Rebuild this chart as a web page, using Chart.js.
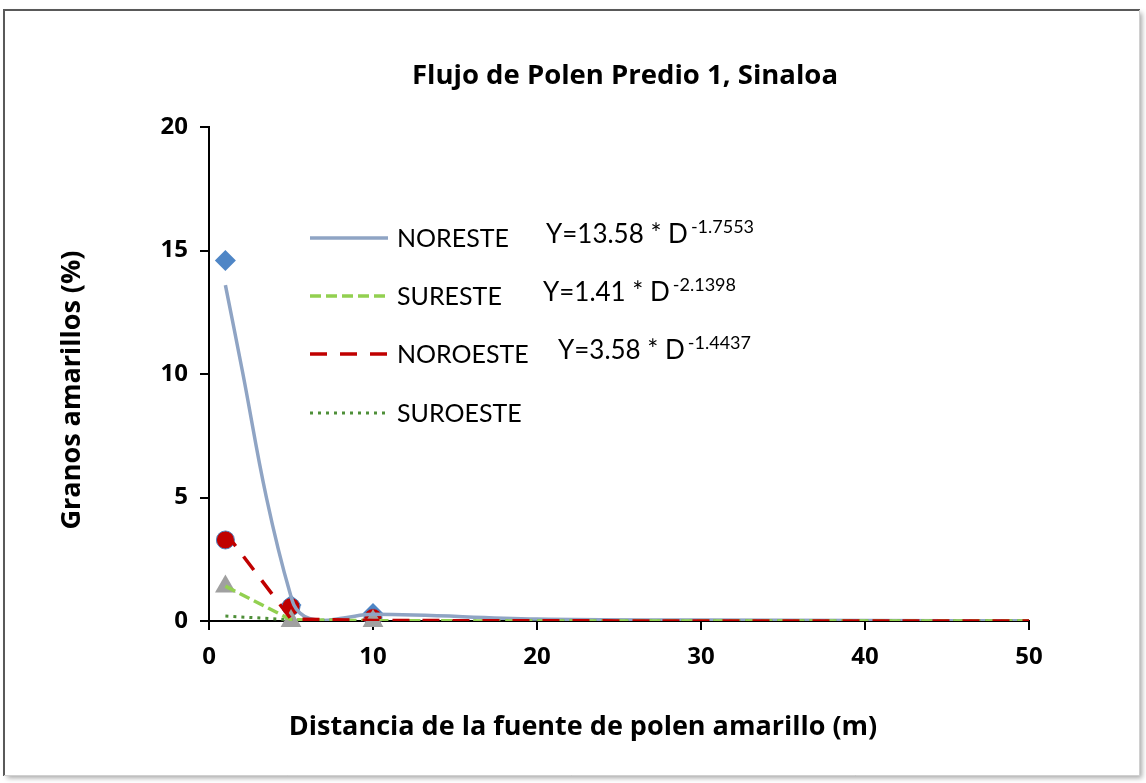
<!DOCTYPE html>
<html><head><meta charset="utf-8">
<script src="https://cdn.jsdelivr.net/npm/chart.js@4.4.1/dist/chart.umd.min.js"></script>
<style>html,body{margin:0;padding:0;background:#fff}#wrap{width:1146px;height:783px;position:relative}canvas{display:block}</style>
</head><body><div id="wrap"><canvas id="c" width="1146" height="783"></canvas></div>
<script>
// ---- data ----
const xTicks = [0, 10, 20, 30, 40, 50];
const yTicks = [0, 5, 10, 15, 20];
// observed points
const obsDist = [1, 5, 10];
const obsNoreste = [14.6, 0.65, 0.3];
const obsNoroeste = [3.28, 0.58, 0.14];
const obsSureste = [1.4, 0, 0];
// fitted curves
const noresteCurveX = [1, 2.07, 3.5, 4.94, 5.55, 6.8, 8.2, 10, 20, 30, 40, 50];
const noresteCurveY = [13.6, 10.0, 5.0, 1.13, 0.32, 0.02, 0.12, 0.27, 0.08, 0.04, 0.02, 0.01];
const fitDist = [1, 5, 10, 20, 30, 40, 50];
const fitSureste = [1.41, 0.05, 0.01, 0, 0, 0, 0];
const fitNoroeste = [3.58, 0.08, 0.02, 0.01, 0, 0, 0];
const fitSuroeste = [0.2, 0.05, 0.01, 0, 0, 0, 0];
const seriesNames = ['NORESTE', 'SURESTE', 'NOROESTE', 'SUROESTE'];
const eqMain = ['Y=13.58 * D', 'Y=1.41 * D', 'Y=3.58 * D', ''];
const eqSup = ['-1.7553', '-2.1398', '-1.4437', ''];
const chartTitle = 'Flujo de Polen Predio 1, Sinaloa';
const xTitle = 'Distancia de la fuente de polen amarillo (m)';
const yTitle = 'Granos amarillos (%)';

const BOLD = '"Open Sans"';
const REG = 'Lato';
const lineStyles = [
  {color: '#8FA4C4', width: 3.5, dash: []},
  {color: '#92D050', width: 3.5, dash: [11, 5]},
  {color: '#C00000', width: 3.5, dash: [17, 13]},
  {color: '#4E8F38', width: 3, dash: [3, 5]}
];
const pts = (xs, ys) => xs.map((x, i) => ({x, y: ys[i]}));
const lineData = [
  pts(noresteCurveX, noresteCurveY),
  pts(fitDist, fitSureste),
  pts(fitDist, fitNoroeste),
  pts(fitDist, fitSuroeste)
];

const datasets = [];
const lineOrder = [4, 2, 1, 3];
lineData.forEach((d, i) => {
  datasets.push({
    label: seriesNames[i], data: d, showLine: true,
    borderColor: lineStyles[i].color, borderWidth: lineStyles[i].width,
    borderDash: lineStyles[i].dash, pointRadius: 0, tension: i === 0 ? 0.4 : 0,
    fill: false, order: lineOrder[i]
  });
});
datasets.push({label: 'obs SURESTE', data: pts(obsDist, obsSureste), showLine: false,
  pointStyle: 'triangle', pointRadius: 12, backgroundColor: '#A0A0A0', borderColor: '#A0A0A0', borderWidth: 0, order: 5, clip: false});
datasets.push({label: 'obs NOROESTE', data: pts(obsDist, obsNoroeste), showLine: false,
  pointStyle: 'circle', pointRadius: 9, backgroundColor: '#C00000', borderColor: '#4F81BD', borderWidth: 1, order: 6, clip: false});
datasets.push({label: 'obs NORESTE', data: pts(obsDist, obsNoreste), showLine: false,
  pointStyle: 'rectRot', pointRadius: 10.5, backgroundColor: '#4F86C6', borderColor: '#4F86C6', borderWidth: 0, order: 7, clip: false});

const decor = {
  id: 'decor',
  beforeDraw(chart) {
    const ctx = chart.ctx;
    ctx.save();
    ctx.fillStyle = '#fff';
    ctx.fillRect(0, 0, chart.width, chart.height);
    ctx.shadowColor = 'rgba(0,0,0,0.35)';
    ctx.shadowBlur = 5; ctx.shadowOffsetX = 3; ctx.shadowOffsetY = 3;
    ctx.fillRect(4, 10, 1135, 765);
    ctx.restore();
    ctx.save();
    ctx.strokeStyle = '#595959'; ctx.lineWidth = 2;
    ctx.beginPath(); ctx.moveTo(4, 776); ctx.lineTo(4, 10); ctx.lineTo(1140, 10); ctx.stroke();
    ctx.strokeStyle = '#d0d0d0'; ctx.lineWidth = 1;
    ctx.beginPath(); ctx.moveTo(1139.5, 10); ctx.lineTo(1139.5, 775.5); ctx.lineTo(4, 775.5); ctx.stroke();
    ctx.restore();
  },
  afterDraw(chart) {
    const ctx = chart.ctx;
    ctx.save();
    ctx.fillStyle = '#000';
    ctx.textAlign = 'center'; ctx.textBaseline = 'middle';
    ctx.font = 'bold 27.5px ' + BOLD;
    ctx.fillText(chartTitle, 625, 76);
    ctx.font = 'bold 27px ' + BOLD;
    ctx.fillText(xTitle, 583, 727);
    ctx.save();
    ctx.translate(72, 390); ctx.rotate(-Math.PI / 2);
    ctx.fillText(yTitle, 0, 0);
    ctx.restore();
    // legend
    const rows = [238, 296, 354, 413];
    const eqX = [546, 543, 558, 0];
    ctx.textAlign = 'left'; ctx.textBaseline = 'alphabetic';
    rows.forEach((y, i) => {
      const st = lineStyles[i];
      ctx.save();
      ctx.strokeStyle = st.color; ctx.lineWidth = st.width; ctx.setLineDash(st.dash);
      ctx.beginPath(); ctx.moveTo(310, y); ctx.lineTo(388, y); ctx.stroke();
      ctx.restore();
      ctx.font = '25px ' + REG;
      ctx.fillText(seriesNames[i], 397, y + 9);
      if (eqMain[i]) {
        ctx.font = '26px ' + REG;
        ctx.fillText(eqMain[i], eqX[i], y + 5);
        const w = ctx.measureText(eqMain[i]).width;
        ctx.font = '18px ' + REG;
        ctx.fillText(eqSup[i], eqX[i] + w + 3, y - 5);
      }
    });
    ctx.restore();
  }
};

new Chart(document.getElementById('c'), {
  type: 'scatter',
  data: {datasets},
  options: {
    responsive: false, animation: false, events: [],
    layout: {padding: {top: 127, right: 117, bottom: 0, left: 0}},
    plugins: {legend: {display: false}, tooltip: {enabled: false}, title: {display: false}},
    scales: {
      x: {
        type: 'linear', min: 0, max: 50,
        afterBuildTicks: s => { s.ticks = xTicks.map(v => ({value: v})); },
        afterFit: s => { s.height = 162; },
        grid: {drawOnChartArea: false, drawTicks: true, tickLength: 9, color: '#000', lineWidth: 2},
        border: {display: true, color: '#000', width: 2},
        ticks: {font: {family: BOLD, size: 24, weight: 'bold'}, color: '#000', padding: 13, maxRotation: 0}
      },
      y: {
        type: 'linear', min: 0, max: 20,
        afterBuildTicks: s => { s.ticks = yTicks.map(v => ({value: v})); },
        afterFit: s => { s.width = 209; },
        grid: {drawOnChartArea: false, drawTicks: true, tickLength: 9, color: '#000', lineWidth: 2},
        border: {display: true, color: '#000', width: 2},
        ticks: {font: {family: BOLD, size: 24, weight: 'bold'}, color: '#000', padding: 12}
      }
    }
  },
  plugins: [decor]
});
</script></body></html>
